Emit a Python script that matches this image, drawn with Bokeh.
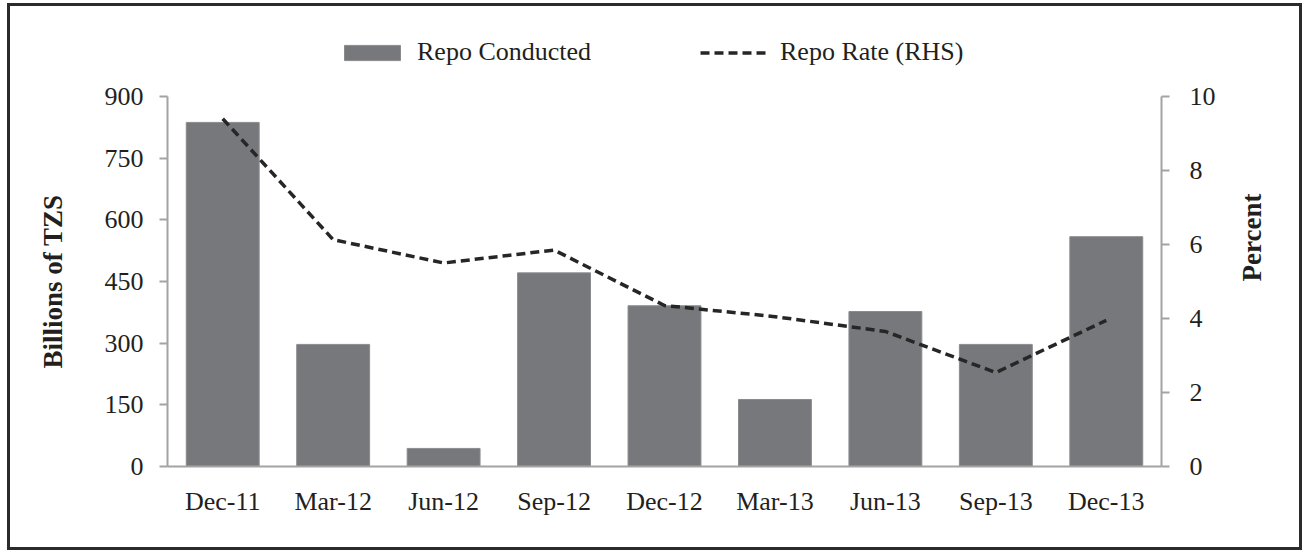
import math
from bokeh.plotting import figure
from bokeh.layouts import column
from bokeh.models import (Range1d, LinearAxis, FixedTicker, FactorRange, Legend, LegendItem,
                          ColumnDataSource)
from bokeh.embed import file_html
from bokeh.resources import INLINE

# ---- data ----
quarters = ["Dec-11", "Mar-12", "Jun-12", "Sep-12", "Dec-12", "Mar-13", "Jun-13", "Sep-13", "Dec-13"]
repo_conducted = [837, 297, 44, 471, 391, 163, 377, 297, 559]
repo_rate = [9.4, 6.13, 5.5, 5.85, 4.35, 4.05, 3.65, 2.54, 3.95]
left_ticks = [0, 150, 300, 450, 600, 750, 900]
right_ticks = [0, 2, 4, 6, 8, 10]
series_names = ["Repo Conducted", "Repo Rate (RHS)"]

FONT = "Liberation Serif"
TXT = "#231f20"
AXC = "#a3a3a3"
BAR = "#77787b"
LINE = "#262626"

src = ColumnDataSource(dict(q=quarters, amt=repo_conducted, rate=repo_rate))
# numeric copy of the same series, used only to give the legend strip real swatches
src_idx = ColumnDataSource(dict(i=list(range(len(quarters))), amt=repo_conducted, rate=repo_rate))

# ---- legend strip (top); its ranges keep the series themselves out of view ----
lg = figure(width=1289, height=66, x_range=Range1d(100, 101), y_range=Range1d(1000, 1001),
            x_axis_type=None, y_axis_type=None, output_backend="svg", toolbar_location=None,
            min_border=0)
lg.outline_line_color = None
lg.xgrid.grid_line_color = None
lg.ygrid.grid_line_color = None
lbar = lg.vbar(x="i", top="amt", width=0.66, source=src_idx, fill_color=BAR, line_color="#8a8b8e")
lline = lg.line(x="i", y="rate", source=src_idx, line_color=LINE, line_width=3.5, line_dash="9 5")
legend = Legend(items=[LegendItem(label=series_names[0], renderers=[lbar]),
                       LegendItem(label=series_names[1], renderers=[lline])],
                orientation="horizontal", location=(170, 5),
                glyph_width=70, glyph_height=19, label_standoff=10, spacing=93, label_width=190,
                padding=0, margin=0, border_line_color=None, background_fill_alpha=0,
                label_text_font=FONT, label_text_font_size="26px", label_text_color=TXT,
                label_text_baseline="alphabetic")
lg.add_layout(legend, "center")

# ---- main chart ----
p = figure(x_range=FactorRange(*quarters, range_padding=0), y_range=Range1d(0, 900),
           width=1289, height=475, output_backend="svg", toolbar_location=None,
           min_border_left=157, min_border_right=138, min_border_top=24, min_border_bottom=81)
p.outline_line_color = None
p.xgrid.grid_line_color = None
p.ygrid.grid_line_color = None
p.extra_y_ranges = {"rate": Range1d(0, 10)}

p.vbar(x="q", top="amt", width=0.66, source=src, fill_color=BAR,
       line_color="#8a8b8e", line_width=1)
p.line(x="q", y="rate", source=src, y_range_name="rate", line_color=LINE,
       line_width=3.5, line_dash="9 5")

la = p.yaxis[0]
la.ticker = FixedTicker(ticks=left_ticks)
la.axis_label = "Billions of TZS"

ra = LinearAxis(y_range_name="rate", ticker=FixedTicker(ticks=right_ticks), axis_label="Percent")
ra.axis_label_orientation = math.pi / 2
p.add_layout(ra, "right")

for ax in [la, ra]:
    ax.axis_line_color = AXC
    ax.axis_line_width = 2
    ax.major_tick_line_color = AXC
    ax.major_tick_line_width = 2
    ax.major_tick_out = 8
    ax.major_tick_in = 0
    ax.minor_tick_line_color = None
    ax.major_label_text_font = FONT
    ax.major_label_text_font_size = "26px"
    ax.major_label_text_color = TXT
    ax.axis_label_text_font = FONT
    ax.axis_label_text_font_size = "27px"
    ax.axis_label_text_font_style = "bold"
    ax.axis_label_text_color = TXT
la.major_label_standoff = 16
la.axis_label_standoff = 34
ra.major_label_standoff = 20
ra.axis_label_standoff = 33

xa = p.xaxis[0]
xa.axis_line_color = AXC
xa.axis_line_width = 2
xa.major_tick_line_color = None
xa.major_tick_out = 0
xa.minor_tick_line_color = None
xa.major_label_text_font = FONT
xa.major_label_text_font_size = "26px"
xa.major_label_text_color = TXT
xa.major_label_standoff = 20

layout = column(lg, p, spacing=0)
layout.margin = (3, 0, 0, 7)
layout.styles = {"border": "3px solid #2b2b2b"}

open("out.html", "w").write(file_html(layout, INLINE))
